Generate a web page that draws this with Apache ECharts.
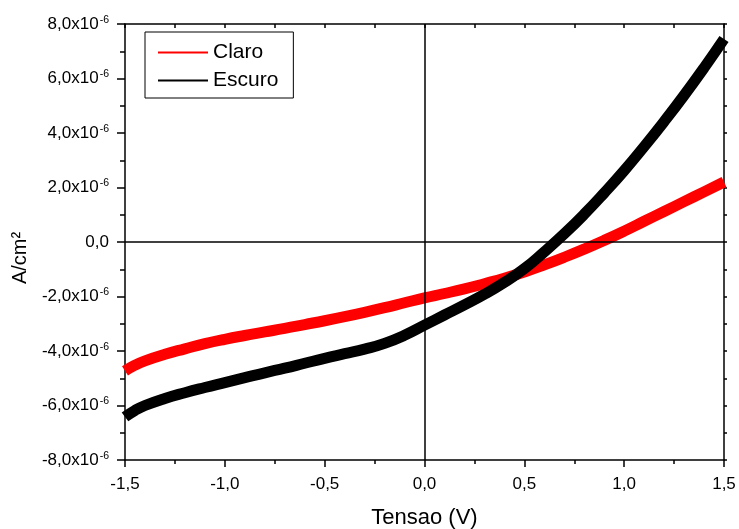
<!DOCTYPE html>
<html>
<head>
<meta charset="utf-8">
<script src="https://cdn.jsdelivr.net/npm/echarts@6/dist/echarts.min.js"></script>
<style>
  html, body { margin: 0; padding: 0; background: #fff; }
  #chart { width: 739px; height: 529px; }
</style>
</head>
<body>
<div id="chart"></div>
<script>
// tensao (V) e densidade de corrente, em unidades de 1e-6 A/cm2
const voltage = [-1.5, -1.45, -1.4, -1.3, -1.2, -1.1, -1.0, -0.9, -0.8, -0.7, -0.6, -0.5, -0.4, -0.3, -0.2, -0.1,
  0, 0.1, 0.2, 0.3, 0.4, 0.5, 0.6, 0.7, 0.8, 0.9, 1.0, 1.1, 1.2, 1.3, 1.4, 1.5];
const claro = [-4.73, -4.52, -4.36, -4.12, -3.92, -3.73, -3.57, -3.43, -3.30, -3.17, -3.03, -2.89, -2.74, -2.58, -2.41, -2.23,
  -2.05, -1.89, -1.72, -1.53, -1.33, -1.10, -0.84, -0.56, -0.26, 0.06, 0.40, 0.76, 1.12, 1.48, 1.84, 2.20];
const escuro = [-6.42, -6.18, -6.00, -5.74, -5.53, -5.34, -5.16, -4.98, -4.80, -4.63, -4.45, -4.27, -4.10, -3.93, -3.72, -3.42,
  -3.05, -2.68, -2.31, -1.92, -1.48, -0.98, -0.36, 0.30, 1.02, 1.80, 2.62, 3.50, 4.42, 5.38, 6.39, 7.45];
const seriesNames = ['Claro', 'Escuro'];
const colors = ['#ff0000', '#000000'];

const font = 'Arial, "Liberation Sans", sans-serif';
const fmt = v => v.toFixed(1).replace('.', ',');

const chart = echarts.init(document.getElementById('chart'));

const baseAxisLine = { show: true, onZero: false, lineStyle: { color: '#000', width: 1.5 } };

const option = {
  backgroundColor: '#fff',
  animation: false,
  color: colors,
  grid: { left: 125, right: 15, top: 24, bottom: 69, containLabel: false, outerBoundsMode: 'none' },
  legend: {
    orient: 'vertical',
    left: 145,
    top: 32,
    padding: [10, 15, 7, 13],
    itemGap: 7,
    itemWidth: 50,
    itemHeight: 2,
    icon: 'rect',
    borderColor: '#000',
    borderWidth: 1,
    borderRadius: 0,
    textStyle: { fontFamily: font, fontSize: 21, color: '#000', lineHeight: 20 },
    data: seriesNames
  },
  xAxis: [{
    type: 'value',
    min: -1.5,
    max: 1.5,
    interval: 0.5,
    name: 'Tensao (V)',
    nameLocation: 'middle',
    nameGap: 47,
    nameTextStyle: { fontFamily: font, fontSize: 22, color: '#000' },
    axisLine: baseAxisLine,
    axisTick: { show: true, inside: false, length: 7, lineStyle: { color: '#000', width: 1.5 } },
    minorTick: { show: true, splitNumber: 2, length: 4, lineStyle: { color: '#000', width: 1.5 } },
    splitLine: { show: false },
    axisLabel: { fontFamily: font, fontSize: 17, color: '#000', margin: 16, formatter: fmt }
  }, {
    type: 'value',
    position: 'top',
    min: -1.5,
    max: 1.5,
    interval: 0.5,
    axisLine: baseAxisLine,
    axisTick: { show: true, inside: true, length: 4, lineStyle: { color: '#000', width: 1.5 } },
    minorTick: { show: true, splitNumber: 2, length: 4, lineStyle: { color: '#000', width: 1.5 } },
    splitLine: { show: false },
    axisLabel: { show: false }
  }],
  yAxis: [{
    type: 'value',
    min: -8,
    max: 8,
    interval: 2,
    name: 'A/cm²',
    nameLocation: 'middle',
    nameGap: 95,
    nameTextStyle: { fontFamily: font, fontSize: 20, color: '#000', padding: [0, 32, 0, 0] },
    axisLine: baseAxisLine,
    axisTick: { show: true, inside: false, length: 8, lineStyle: { color: '#000', width: 1.5 } },
    minorTick: { show: true, splitNumber: 2, length: 5, lineStyle: { color: '#000', width: 1.5 } },
    splitLine: { show: false },
    axisLabel: {
      margin: 16,
      formatter: v => v === 0 ? '{m|0,0}' : '{m|' + fmt(v) + 'x10}{s|-6}',
      rich: {
        m: { fontFamily: font, fontSize: 17, color: '#000' },
        s: { fontFamily: font, fontSize: 10.5, color: '#000', verticalAlign: 'top', padding: [0, 0, 8, 1] }
      }
    }
  }, {
    type: 'value',
    position: 'right',
    min: -8,
    max: 8,
    interval: 1,
    axisLine: baseAxisLine,
    axisTick: { show: true, inside: false, length: 3, lineStyle: { color: '#000', width: 1.5 } },
    splitLine: { show: false },
    axisLabel: { show: false }
  }],
  series: [{
    name: seriesNames[0],
    type: 'line',
    smooth: true,
    showSymbol: false,
    lineStyle: { color: colors[0], width: 11, cap: 'butt' },
    data: voltage.map((v, i) => [v, claro[i]]),
    z: 2
  }, {
    name: seriesNames[1],
    type: 'line',
    smooth: true,
    showSymbol: false,
    lineStyle: { color: colors[1], width: 11, cap: 'butt' },
    data: voltage.map((v, i) => [v, escuro[i]]),
    z: 3,
    markLine: {
      silent: true,
      symbol: 'none',
      label: { show: false },
      lineStyle: { color: '#000', width: 1.5, type: 'solid' },
      data: [{ xAxis: 0 }, { yAxis: 0 }]
    }
  }]
};

chart.setOption(option);
</script>
</body>
</html>
